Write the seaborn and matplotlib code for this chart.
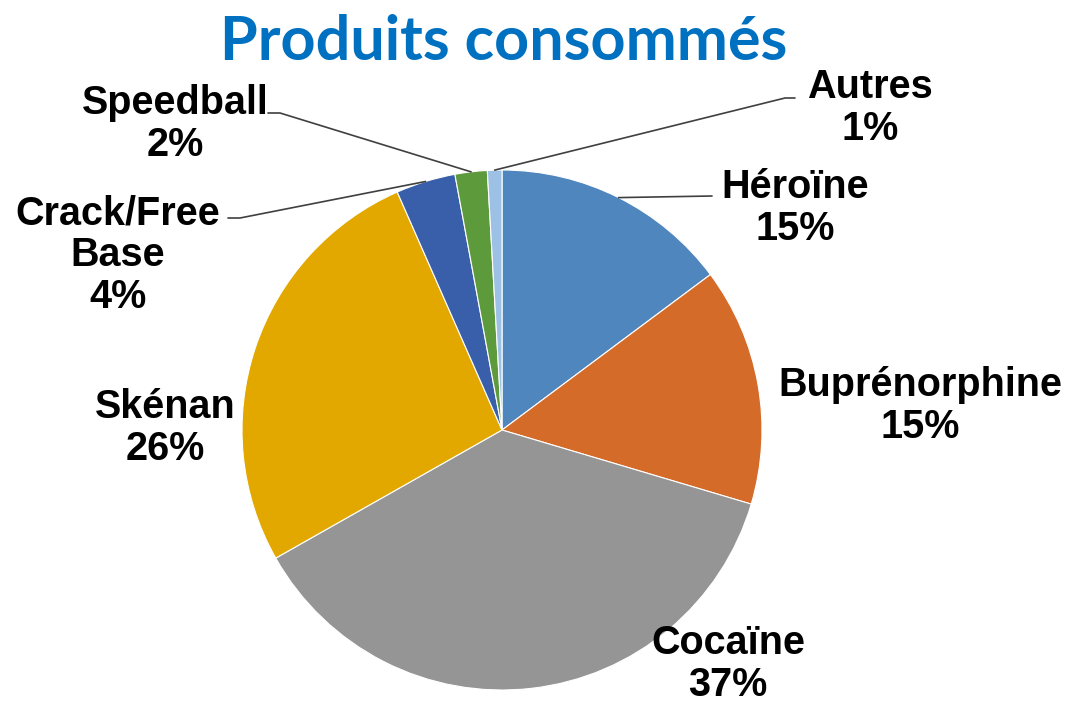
import numpy as np
import matplotlib
matplotlib.use("Agg")
import matplotlib.pyplot as plt
import seaborn as sns

categories = ["Héroïne", "Buprénorphine", "Cocaïne", "Skénan", "Crack/Free\nBase", "Speedball", "Autres"]
values = [14.8, 14.8, 37.2, 26.6, 3.7, 2.0, 0.9]
pct_labels = ["15%", "15%", "37%", "26%", "4%", "2%", "1%"]
colors = ["#4F86BE", "#D46B29", "#959595", "#E2A800", "#3A5FAA", "#5D9A3B", "#9DC0E5"]

sns.set_theme(style="white")
plt.rcParams['font.family'] = ['Liberation Sans', 'DejaVu Sans']

W, H = 1066, 704
fig = plt.figure(figsize=(W / 100, H / 100), dpi=100)
ax = fig.add_axes([0, 0, 1, 1])

cx, cy, R = 502, H - 430, 260
wedges, _ = ax.pie(values, colors=colors, startangle=90, counterclock=False,
                   center=(cx, cy), radius=R, frame=True,
                   wedgeprops=dict(edgecolor="white", linewidth=0.8))
ax.set_xlim(0, W)
ax.set_ylim(0, H)
ax.set_aspect("equal")
ax.axis("off")

# label positions (pixel coords, top-left origin) and leader elbows
label_pos = [(795, 208), (920, 406), (728, 664), (165, 428), (118, 255), (175, 124), (870, 108)]
leaders = {
    0: [(712, 196)],
    4: [(240, 218), (228, 218)],
    5: [(280, 113), (268, 113)],
    6: [(785, 98), (795, 98)],
}

for i, w in enumerate(wedges):
    ang = np.deg2rad((w.theta1 + w.theta2) / 2)
    px, py = cx + R * np.cos(ang), cy + R * np.sin(ang)
    lx, ly = label_pos[i]
    ax.text(lx, H - ly, f"{categories[i]}\n{pct_labels[i]}", ha="center", va="center",
            fontsize=28.5, fontweight="bold", color="black", linespacing=1.12)
    if i in leaders:
        pts = [(px, py)] + [(x, H - y) for x, y in leaders[i]]
        xs, ys = zip(*pts)
        ax.plot(xs, ys, color="#404040", lw=1.2)

ax.text(504, H - 42, "Produits consommés", ha="center", va="center",
        fontsize=44, fontweight="bold", color="#0070C0", family=["Lato", "DejaVu Sans"])

fig.savefig("out.png", dpi=100)
